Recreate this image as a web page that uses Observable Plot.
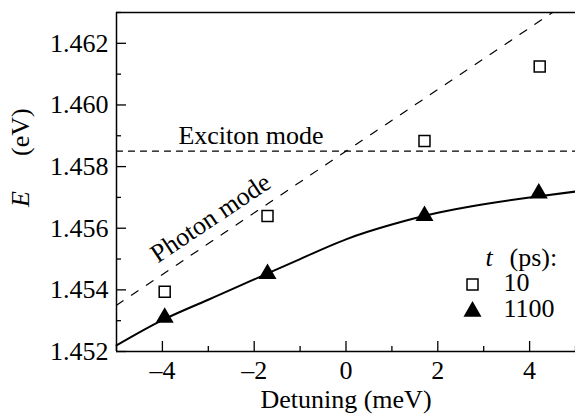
<!DOCTYPE html>
<html><head><meta charset="utf-8">
<script src="https://cdn.jsdelivr.net/npm/d3@7"></script>
<script src="https://cdn.jsdelivr.net/npm/@observablehq/plot@0.6"></script>
<style>
body{margin:0;background:#fff}
svg{display:block}
svg text{font-family:"Liberation Serif","Times New Roman",serif !important;}
</style>
</head><body><div id="chart"></div>
<script>
// t = 10 ps (open squares)
const detuning10 = [-3.95, -1.71, 1.71, 4.22];
const energy10 = [1.45394, 1.4564, 1.45883, 1.46125];
// t = 1100 ps (filled triangles)
const detuning1100 = [-3.95, -1.71, 1.71, 4.2];
const energy1100 = [1.45310, 1.45452, 1.4564, 1.45713];
// solid fit curve (lower polariton)
const fitX = [-5, -4, -3, -2, -1, 0, 1, 2, 3, 4, 5];
const fitE = [1.45220, 1.45302, 1.45368, 1.45434, 1.45500, 1.45564, 1.45612, 1.45650, 1.45678, 1.45700, 1.45719];
// photon mode (dashed) and exciton mode (dashed)
const photonX = [-5, 4.5];
const photonE = [1.4535, 1.463];
const excitonX = [-5, 5];
const excitonE = [1.4585, 1.4585];
// ticks
const xMajor = [-4, -2, 0, 2, 4];
const xMinor = [-5, -3, -1, 1, 3, 5];
const yMajor = [1.452, 1.454, 1.456, 1.458, 1.460, 1.462];
const yMinor = [1.453, 1.455, 1.457, 1.459, 1.461, 1.463];
const legendTimes = ["10", "1100"];

const fs = 26;
const ff = "Liberation Serif";

const pts10 = detuning10.map((x, i) => ({x, y: energy10[i]}));
const pts1100 = detuning1100.map((x, i) => ({x, y: energy1100[i]}));
const fit = fitX.map((x, i) => ({x, y: fitE[i]}));
const photon = photonX.map((x, i) => ({x, y: photonE[i]}));
const exciton = excitonX.map((x, i) => ({x, y: excitonE[i]}));

const T = (o) => ({fontSize: fs, fontFamily: ff, fill: "black", ...o});

const chart = Plot.plot({
  width: 575,
  height: 417,
  marginLeft: 116,
  marginRight: 0,
  marginTop: 12,
  marginBottom: 66,
  style: {fontFamily: ff, fontSize: "26px", color: "black", background: "white"},
  x: {domain: [-5, 5], label: null},
  y: {domain: [1.452, 1.463], label: null},
  marks: [
    // frame lines (left, top, bottom)
    Plot.ruleX([-5], {stroke: "black", strokeWidth: 1.5}),
    Plot.ruleY([1.452, 1.463], {stroke: "black", strokeWidth: 1.5}),
    // axes: inward ticks
    Plot.axisX({ticks: xMajor, tickSize: -10, text: null, label: null, strokeWidth: 1.3}),
    Plot.axisX({ticks: xMinor, tickSize: -5, text: null, label: null, strokeWidth: 1.3}),
    Plot.axisX({ticks: xMajor, tickSize: 0, tickPadding: 9, tickFormat: d => (d < 0 ? "\u2013" + Math.abs(d) : String(d)), fontSize: fs, fontFamily: ff, fill: "black", label: null}),
    Plot.axisY({ticks: yMajor, tickSize: -10, text: null, label: null, strokeWidth: 1.3}),
    Plot.axisY({ticks: yMinor, tickSize: -5, text: null, label: null, strokeWidth: 1.3}),
    Plot.axisY({ticks: yMajor, tickSize: 0, tickPadding: 8, tickFormat: d3.format(".3f"), fontSize: fs, fontFamily: ff, fill: "black", label: null}),
    // modes
    Plot.line(exciton, {x: "x", y: "y", stroke: "black", strokeWidth: 1.2, strokeDasharray: "6,6"}),
    Plot.line(photon, {x: "x", y: "y", stroke: "black", strokeWidth: 1.2, strokeDasharray: "8,10"}),
    // fit curve
    Plot.line(fit, {x: "x", y: "y", stroke: "black", strokeWidth: 2, curve: "natural"}),
    // data
    Plot.dot(pts10, {x: "x", y: "y", symbol: "square", r: 6.2, stroke: "black", strokeWidth: 1.5, fill: "white"}),
    Plot.dot(pts1100, {x: "x", y: "y", symbol: "triangle", r: 6.7, fill: "black", stroke: "none"}),
    // mode labels
    Plot.text(["Exciton mode"], T({x: -2.07, y: 1.4585, text: d => d, lineAnchor: "bottom", dy: -7})),
    Plot.text(["Photon mode"], T({x: -2.85, y: 1.45565, text: d => d, rotate: -33.8, lineAnchor: "bottom", dy: -14})),
    // legend
    Plot.text(["t"], T({frameAnchor: "bottom-right", dx: -90, dy: -94, text: d => d, textAnchor: "start", lineAnchor: "middle", fontStyle: "italic"})),
    Plot.text(["(ps):"], T({frameAnchor: "bottom-right", dx: -66, dy: -94, text: d => d, textAnchor: "start", lineAnchor: "middle"})),
    Plot.dot([0], {frameAnchor: "bottom-right", dx: -103, dy: -67, symbol: "square", r: 6.2, stroke: "black", strokeWidth: 1.5, fill: "white"}),
    Plot.dot([0], {frameAnchor: "bottom-right", dx: -103, dy: -40, symbol: "triangle", r: 6.7, fill: "black", stroke: "none"}),
    Plot.text([legendTimes[0]], T({frameAnchor: "bottom-right", dx: -72, dy: -69, text: d => d, textAnchor: "start", lineAnchor: "middle"})),
    Plot.text([legendTimes[1]], T({frameAnchor: "bottom-right", dx: -72, dy: -43, text: d => d, textAnchor: "start", lineAnchor: "middle"})),
    // axis titles
    Plot.text(["Detuning (meV)"], T({frameAnchor: "bottom", dy: 56, text: d => d, lineAnchor: "bottom"})),
    Plot.text(["E"], T({frameAnchor: "left", dx: -96, dy: 25, text: d => d, rotate: -90, fontStyle: "italic", lineAnchor: "middle"})),
    Plot.text(["(eV)"], T({frameAnchor: "left", dx: -96, dy: -26, text: d => d, rotate: -90, lineAnchor: "middle"}))
  ]
});
d3.select(chart).selectAll("text").attr("font-family", ff).style("font-family", "'Liberation Serif'");
document.getElementById("chart").appendChild(chart);
</script>
</body></html>
